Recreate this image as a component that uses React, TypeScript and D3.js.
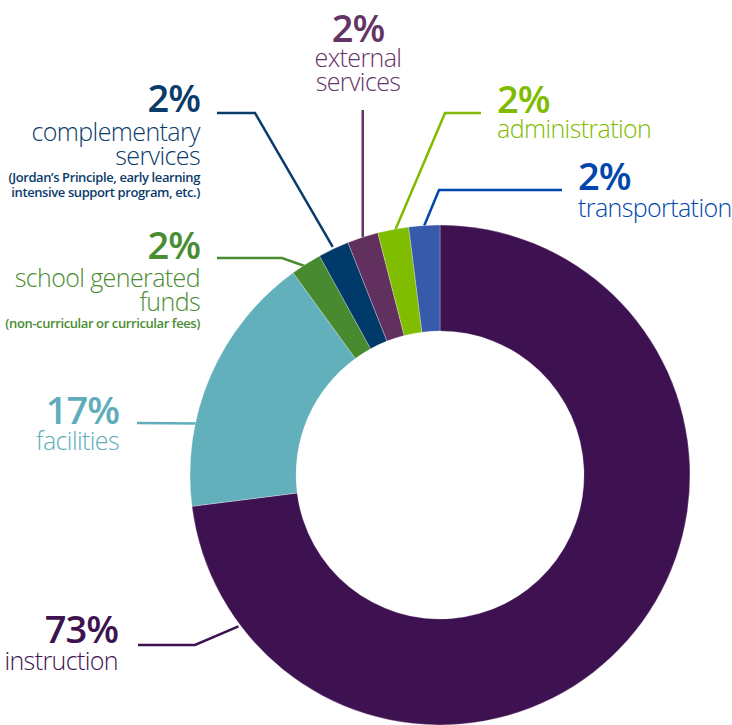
import * as d3 from "d3";

const categories = [
  "instruction",
  "facilities",
  "school generated funds",
  "complementary services",
  "external services",
  "administration",
  "transportation",
];
const shares = [73, 17, 2, 2, 2, 2, 2];
const sliceColors = ["#3e1250", "#63b0bd", "#488a30", "#003a6b", "#62305f", "#80bc00", "#375aaa"];
const textColors = ["#3e1250", "#5fadbb", "#4a8c32", "#0b3b6b", "#653466", "#7fbb00", "#0046ad"];

// label text lines below the percentage: [big lines, small lines]
const labelLines: [string[], string[]][] = [
  [["instruction"], []],
  [["facilities"], []],
  [["school generated", "funds"], ["(non-curricular or curricular fees)"]],
  [["complementary", "services"], ["(Jordan’s Principle, early learning", "intensive support program, etc.)"]],
  [["external", "services"], []],
  [["administration"], []],
  [["transportation"], []],
];

const W = 732;
const H = 725;
const CX = 440;
const CY = 475;
const R_OUT = 250;
const R_IN = 144;

// layout for each label: baseline of percentage, alignment, leader path
type Lay = {
  x: number;
  y: number;
  anchor: "start" | "middle" | "end";
  line: [number, number][];
  endAngle?: number; // fraction within slice
  endR: number;
  gap: number; // percentage baseline -> first label line
  smallGap: number;
};
const layout: Lay[] = [
  { x: 118, y: 643, anchor: "end", line: [[138, 645], [195, 645]], endAngle: 0.887, endR: 252, gap: 27, smallGap: 0 },
  { x: 119, y: 424, anchor: "end", line: [[137, 423]], endAngle: 0.314, endR: 247, gap: 26, smallGap: 0 },
  { x: 200, y: 259, anchor: "end", line: [[217, 258], [282, 258]], endR: 246, gap: 28, smallGap: 17 },
  { x: 200, y: 112, anchor: "end", line: [[217, 113], [255, 113]], endR: 252, gap: 29, smallGap: 17 },
  { x: 358, y: 42, anchor: "middle", line: [], endR: 250, gap: 25, smallGap: 0 },
  { x: 497, y: 113, anchor: "start", line: [[481, 113], [445, 113]], endR: 246, gap: 25, smallGap: 0 },
  { x: 578, y: 190, anchor: "start", line: [[562, 190], [439, 190]], endR: 250, gap: 27, smallGap: 0 },
];

const FONT = "'Open Sans', 'Noto Sans', sans-serif";
const LINE_H = 24;

export default function App() {
  const pie = d3
    .pie<number>()
    .sort(null)
    .value((d) => d)
    .startAngle(0)
    .endAngle(2 * Math.PI);
  const arcs = pie(shares);
  const arc = d3.arc<d3.PieArcDatum<number>>().innerRadius(R_IN).outerRadius(R_OUT);
  const lineGen = d3.line();

  return (
    <div style={{ position: "absolute", left: 0, top: 0 }}>
      <svg width={W} height={H} style={{ display: "block", background: "#fff" }}>
        {arcs.map((a, i) => {
          const L = layout[i];
          const f = L.endAngle ?? 0.5;
          const ang = a.startAngle + (a.endAngle - a.startAngle) * f;
          const ex = CX + L.endR * Math.sin(ang);
          const ey = CY - L.endR * Math.cos(ang);
          let pts: [number, number][] = L.line.slice();
          if (i === 4) pts = [[ex, 110]];
          pts.push([ex, ey]);
          return (
            <path
              key={"l" + i}
              d={lineGen(pts) ?? ""}
              fill="none"
              stroke={textColors[i]}
              strokeWidth={2.5}
            />
          );
        })}
        <g transform={`translate(${CX},${CY})`}>
          {arcs.map((a, i) => (
            <path
              key={categories[i]}
              d={arc(a) ?? ""}
              fill={sliceColors[i]}
              stroke="#ffffff"
              strokeOpacity={0.45}
              strokeWidth={0.6}
            />
          ))}
        </g>
        {layout.map((L, i) => {
          const [big, small] = labelLines[i];
          const col = textColors[i];
          const bigBase = L.y + L.gap;
          const smallBase = bigBase + (big.length - 1) * LINE_H + L.smallGap;
          return (
            <g key={"t" + i} fill={col} fontFamily={FONT} textAnchor={L.anchor}>
              <text x={L.x} y={L.y} fontSize={38} fontWeight={600} letterSpacing={-1}>
                {shares[i]}%
              </text>
              {big.map((s, j) => (
                <text key={j} x={L.x} y={bigBase + j * LINE_H} fontSize={25} fontWeight={300} letterSpacing={-0.6}>
                  {s}
                </text>
              ))}
              {small.map((s, j) => (
                <text
                  key={"s" + j}
                  x={L.x}
                  y={smallBase + j * 15}
                  fontSize={13}
                  fontWeight={600}
                  letterSpacing={-0.4}
                >
                  {s}
                </text>
              ))}
            </g>
          );
        })}
      </svg>
    </div>
  );
}
